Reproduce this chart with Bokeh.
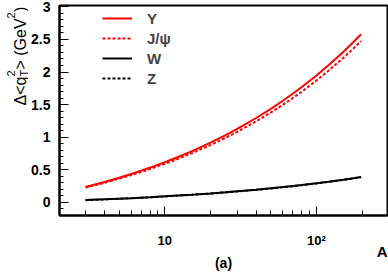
import math
from bokeh.plotting import figure
from bokeh.layouts import row
from bokeh.models import FixedTicker, Label, Legend, LegendItem, Range1d, Title
from bokeh.embed import file_html
from bokeh.resources import INLINE

# ---- data ----
A_vals = [3, 4, 5, 6, 7, 8, 10, 12, 15, 20, 25, 30, 40, 50, 60, 70, 80, 100, 120, 150, 170, 197]
Y_vals = [0.237, 0.314, 0.380, 0.437, 0.488, 0.535, 0.618, 0.690, 0.784, 0.917, 1.029,
          1.127, 1.295, 1.436, 1.559, 1.670, 1.770, 1.948, 2.104, 2.307, 2.429, 2.578]
Jpsi_vals = [0.228, 0.301, 0.365, 0.420, 0.468, 0.514, 0.593, 0.662, 0.753, 0.880, 0.988,
             1.082, 1.243, 1.379, 1.497, 1.603, 1.699, 1.870, 2.020, 2.215, 2.332, 2.475]
W_vals = [0.036, 0.048, 0.058, 0.066, 0.074, 0.081, 0.094, 0.105, 0.119, 0.139, 0.156,
          0.171, 0.196, 0.218, 0.236, 0.253, 0.268, 0.295, 0.319, 0.349, 0.368, 0.390]
Z_vals = [0.035, 0.047, 0.057, 0.065, 0.073, 0.080, 0.092, 0.103, 0.117, 0.137, 0.154,
          0.169, 0.194, 0.215, 0.233, 0.250, 0.265, 0.292, 0.316, 0.346, 0.364, 0.386]
series_names = ["Y", "J/\u03c8", "W", "Z"]
x_major_ticks = [10, 100]
x_tick_labels = {10: "10", 100: "10\u00b2"}
x_minor_ticks = [3, 4, 5, 6, 7, 8, 9, 20, 30, 40, 50, 60, 70, 80, 90, 200]
y_major_ticks = [0, 0.5, 1, 1.5, 2, 2.5, 3]
y_minor_ticks = [-0.1, 0.1, 0.2, 0.3, 0.4, 0.6, 0.7, 0.8, 0.9, 1.1, 1.2, 1.3, 1.4,
                 1.6, 1.7, 1.8, 1.9, 2.1, 2.2, 2.3, 2.4, 2.6, 2.7, 2.8, 2.9]
x_title = "A"
panel_tag = "(a)"

W_TOT, H_FIG = 388, 277
W_L = 28                      # narrow strip holding the y title
W_FIG = W_TOT - W_L
FL, FR, FT, FB = 57 - W_L, 387 - W_L, 5, 215   # frame edges in main-figure px
X0, X1, Y0, Y1 = 2.02, 294.0, -0.2, 3.02

FONT = "Liberation Sans"

p = figure(width=W_FIG, height=H_FIG, x_axis_type="log",
           x_range=Range1d(X0, X1), y_range=Range1d(Y0, Y1),
           output_backend="svg", toolbar_location=None,
           min_border_left=FL, min_border_right=W_FIG - FR,
           min_border_top=FT, min_border_bottom=H_FIG - FB)
p.background_fill_color = "white"
p.border_fill_color = "white"
p.outline_line_color = "black"
p.outline_line_width = 2
p.xgrid.visible = False
p.ygrid.visible = False

# axes
xa = p.xaxis[0]
xa.ticker = FixedTicker(ticks=x_major_ticks, minor_ticks=x_minor_ticks)
xa.major_label_overrides = x_tick_labels
xa.major_tick_in = 9
xa.major_tick_out = 0
xa.minor_tick_in = 5
xa.minor_tick_out = 0
xa.axis_line_width = 2
xa.major_label_standoff = 17
xa.major_label_text_font = FONT
xa.major_label_text_font_style = "bold"
xa.major_label_text_font_size = "13px"
xa.major_label_text_color = "black"

ya = p.yaxis[0]
ya.ticker = FixedTicker(ticks=y_major_ticks, minor_ticks=y_minor_ticks)
ya.major_tick_in = 9
ya.major_tick_out = 0
ya.minor_tick_in = 4
ya.minor_tick_out = 0
ya.axis_line_width = 2
ya.major_label_standoff = 9
ya.major_label_text_font = FONT
ya.major_label_text_font_style = "bold"
ya.major_label_text_font_size = "14px"
ya.major_label_text_color = "black"

# curves
r_y = p.line(A_vals, Y_vals, line_color="red", line_width=2)
r_j = p.line(A_vals, Jpsi_vals, line_color="red", line_width=2, line_dash="3 2")
r_w = p.line(A_vals, W_vals, line_color="black", line_width=2)
r_z = p.line(A_vals, Z_vals, line_color="black", line_width=2, line_dash="3 2")

legend = Legend(items=[LegendItem(label=series_names[0], renderers=[r_y]),
                       LegendItem(label=series_names[1], renderers=[r_j]),
                       LegendItem(label=series_names[2], renderers=[r_w]),
                       LegendItem(label=series_names[3], renderers=[r_z])],
                location=(43, (FB - FT) - 3 - 80),
                glyph_width=30, glyph_height=20, label_height=20,
                label_standoff=15, spacing=0, padding=0, margin=0,
                border_line_alpha=0, background_fill_alpha=0,
                label_text_font=FONT, label_text_font_style="bold",
                label_text_font_size="15px")
p.add_layout(legend)

# x title "A" (right aligned) and panel tag "(a)" below the axis
p.add_layout(Title(text=x_title, align="right", vertical_align="top", offset=0,
                   standoff=-16, text_font=FONT, text_font_style="bold",
                   text_font_size="15px", text_color="black"), "below")
p.add_layout(Title(text=panel_tag, align="center", vertical_align="top",
                   standoff=2, text_font=FONT, text_font_style="bold",
                   text_font_size="14px", text_color="black"), "below")

# narrow strip with the rotated y title: delta <q_T^2> (GeV^2)
t = figure(frame_width=W_L, frame_height=H_FIG, x_axis_type=None, y_axis_type=None,
           x_range=Range1d(0, W_L), y_range=Range1d(0, H_FIG),
           output_backend="svg", toolbar_location=None,
           min_border=0, min_border_left=0, min_border_right=0,
           min_border_top=0, min_border_bottom=0)
t.outline_line_color = None
t.background_fill_color = "white"
t.border_fill_color = "white"

rot = math.pi / 2
base_x = 20   # baseline x of main text (px from strip left)
s0 = 100      # bottom end of the text (px from top)
pieces = [
    ("\u0394<q", 0, "16px", 0),
    ("2", 29, "11px", -10),
    ("T", 29, "11px", 3),
    ("> (GeV", 36, "16px", 0),
    ("2", 87, "11px", -10),
    (")", 93.5, "16px", 0),
]
for txt, s, size, dx in pieces:
    t.add_layout(Label(x=base_x + dx, y=H_FIG - (s0 - s), text=txt,
                       text_font=FONT, text_font_size=size, angle=rot,
                       text_align="left", text_baseline="alphabetic",
                       text_color="black"))

layout = row(t, p, spacing=0)
open("out.html", "w").write(file_html(layout, INLINE))
